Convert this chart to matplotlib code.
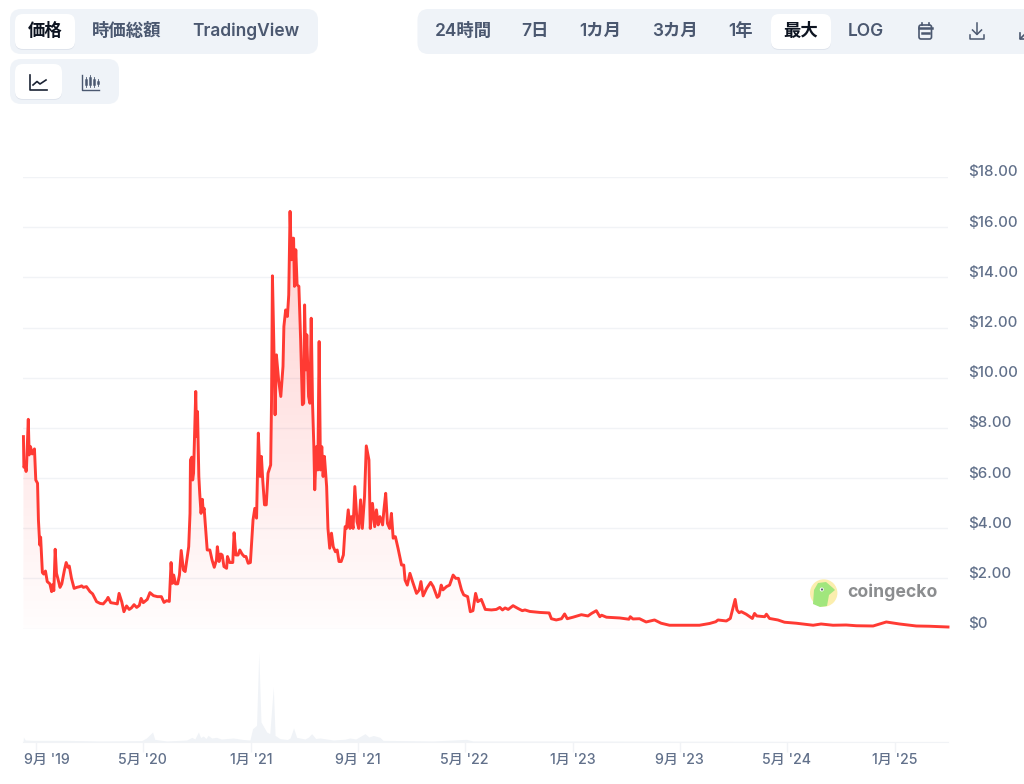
import datetime as dt
import numpy as np
import matplotlib
matplotlib.use("Agg")
import matplotlib.pyplot as plt
import matplotlib.dates as mdates
from matplotlib.patches import FancyBboxPatch, Circle, Polygon
from matplotlib.transforms import ScaledTranslation

plt.rcParams['font.family'] = ['Inter', 'Noto Sans CJK JP', 'DejaVu Sans']

start_date = dt.date(2019, 8, 3)

# price: days since start_date, USD
price_days = [
    1, 2, 5, 7, 8, 12, 14, 17, 21, 26, 29, 33, 35, 38, 40, 44, 47, 51, 55, 61, 65, 67, 70, 73, 76, 79, 84, 88, 94, 98,
    102, 105, 110, 116, 122, 129, 133, 137, 144, 152, 158, 167, 175, 182, 190, 193, 199, 209, 214, 218, 224, 229, 235,
    241, 246, 252, 258, 264, 268, 273, 282, 288, 296, 305, 314, 320, 326, 332, 336, 339, 342, 346, 351, 355, 359, 364,
    368, 373, 376, 379, 380, 383, 385, 387, 392, 394, 396, 399, 401, 404, 407, 409, 411, 414, 418, 424, 429, 434, 439,
    441, 445, 449, 452, 456, 462, 464, 469, 476, 479, 483, 488, 492, 497, 502, 506, 511, 516, 522, 526, 530, 534, 538,
    541, 544, 548, 552, 556, 562, 564, 566, 569, 572, 575, 580, 585, 590, 592, 596, 600, 603, 606, 609, 612, 614, 616,
    619, 622, 626, 630, 634, 637, 639, 642, 644, 648, 651, 654, 657, 660, 662, 666, 669, 672, 675, 678, 681, 684, 689,
    692, 696, 700, 704, 709, 713, 717, 722, 727, 731, 734, 738, 742, 745, 749, 753, 758, 762, 766, 770, 775, 779, 785,
    788, 793, 798, 802, 806, 810, 816, 819, 823, 827, 832, 836, 840, 845, 851, 859, 864, 867, 872, 878, 884, 893, 899,
    903, 908, 916, 925, 931, 940, 944, 949, 953, 961, 968, 976, 982, 988, 995, 1000, 1009, 1015, 1021, 1027, 1032,
    1040, 1049, 1063, 1074, 1082, 1088, 1094, 1101, 1112, 1123, 1133, 1139, 1150, 1173, 1194, 1199, 1210, 1222, 1229,
    1235, 1248, 1267, 1282, 1290, 1301, 1309, 1313, 1324, 1354, 1375, 1378, 1384, 1399, 1414, 1433, 1448, 1467, 1498,
    1535, 1558, 1572, 1577, 1596, 1605, 1610, 1616, 1620, 1625, 1630, 1641, 1655, 1660, 1665, 1683, 1687, 1694, 1713,
    1728, 1755, 1793, 1811, 1838, 1868, 1891, 1929, 1959, 1989, 2027, 2057, 2099,
]
price_usd = [
    7.65, 6.43, 6.53, 6.26, 6.46, 8.34, 6.92, 7.25, 6.96, 7.16, 5.92, 5.79, 4.33, 3.33, 3.64, 2.23, 2.17, 2.29, 1.87,
    1.78, 1.47, 1.74, 1.51, 3.16, 2.2, 2.0, 1.64, 1.78, 2.33, 2.63, 2.44, 2.49, 2.0, 1.6, 1.64, 1.67, 1.7, 1.64, 1.67,
    1.47, 1.38, 1.07, 1.0, 0.98, 1.14, 1.24, 1.03, 1.0, 0.98, 1.4, 1.07, 0.67, 0.9, 0.76, 0.82, 0.95, 0.84, 0.92, 1.2,
    1.03, 1.16, 1.43, 1.31, 1.27, 1.27, 1.04, 1.11, 1.08, 2.63, 1.8, 2.13, 1.78, 1.78, 2.13, 3.11, 2.33, 2.27, 2.87,
    3.26, 4.59, 6.72, 6.83, 5.92, 6.19, 9.45, 7.65, 8.65, 6.06, 5.39, 4.59, 5.15, 4.66, 4.79, 4.06, 3.13, 3.13, 2.73,
    2.44, 2.73, 3.26, 2.67, 2.97, 2.93, 2.47, 2.4, 2.87, 2.63, 2.63, 3.82, 2.93, 2.93, 3.13, 2.97, 2.87, 2.87, 2.6,
    2.63, 4.33, 4.79, 4.4, 7.79, 6.06, 6.86, 5.92, 4.93, 4.93, 6.19, 6.52, 9.12, 14.06, 11.51, 8.52, 10.91, 9.91, 9.25,
    10.45, 12.04, 12.7, 12.44, 13.3, 16.63, 14.7, 15.56, 15.56, 13.64, 15.1, 13.7, 13.64, 11.51, 8.92, 8.98, 12.9,
    10.31, 11.71, 9.25, 8.98, 12.37, 8.98, 7.25, 5.53, 7.25, 6.32, 11.44, 6.32, 7.25, 6.06, 6.86, 5.66, 3.99, 3.2, 3.8,
    3.26, 3.06, 3.13, 2.67, 2.67, 2.93, 4.06, 3.99, 4.73, 3.99, 4.46, 3.99, 5.66, 4.26, 3.99, 5.13, 3.99, 5.26, 7.28,
    6.72, 3.99, 4.99, 4.06, 4.73, 4.13, 4.46, 4.13, 4.73, 5.39, 4.19, 3.99, 4.59, 3.6, 3.66, 3.2, 2.53, 2.53, 1.93,
    1.73, 2.2, 1.87, 1.4, 1.53, 1.87, 1.3, 1.6, 1.84, 1.67, 1.24, 1.3, 1.73, 1.54, 1.67, 1.73, 2.13, 2.0, 2.0, 1.54,
    1.34, 1.27, 0.67, 0.71, 1.4, 1.07, 1.16, 0.76, 0.74, 0.76, 0.84, 0.74, 0.82, 0.76, 0.91, 0.8, 0.71, 0.74, 0.68,
    0.64, 0.62, 0.39, 0.34, 0.39, 0.58, 0.39, 0.45, 0.55, 0.5, 0.6, 0.71, 0.47, 0.53, 0.45, 0.42, 0.37, 0.47, 0.38,
    0.39, 0.26, 0.34, 0.21, 0.13, 0.13, 0.13, 0.2, 0.27, 0.34, 0.3, 0.4, 0.74, 1.16, 0.74, 0.63, 0.67, 0.57, 0.4, 0.6,
    0.5, 0.47, 0.57, 0.4, 0.34, 0.25, 0.21, 0.13, 0.18, 0.13, 0.14, 0.11, 0.1, 0.26, 0.18, 0.1, 0.09, 0.06,
]

# traded volume, same day axis, millions USD
volume_days = [0, 1, 5, 23, 99, 175, 269, 280, 294, 299, 326, 371, 376, 383, 390, 398, 403, 409, 415, 420, 428, 439,
               450, 477, 500, 515, 521, 530, 535, 540, 553, 560, 568, 572, 583, 600, 606, 614, 621, 640, 648, 655, 664,
               674, 704, 730, 742, 755, 765, 776, 785, 795, 810, 817, 931, 1006, 1021, 1200, 1600, 2099]
volume_musd = [0, 100, 40, 33, 33, 20, 27, 80, 200, 53, 20, 40, 60, 93, 60, 200, 90, 120, 70, 133, 80, 93, 60, 80, 50,
               40, 267, 333, 1800, 400, 200, 167, 1100, 133, 67, 50, 80, 280, 93, 60, 100, 167, 70, 80, 40, 55, 80, 60,
               110, 167, 100, 130, 93, 33, 20, 53, 20, 20, 15, 10]

price_ticks = [0, 2, 4, 6, 8, 10, 12, 14, 16, 18]
price_tick_labels = ['$0', '$2.00', '$4.00', '$6.00', '$8.00', '$10.00', '$12.00', '$14.00', '$16.00', '$18.00']
date_ticks = [dt.date(2019, 9, 1), dt.date(2020, 5, 1), dt.date(2021, 1, 1), dt.date(2021, 9, 1), dt.date(2022, 5, 1),
              dt.date(2023, 1, 1), dt.date(2023, 9, 1), dt.date(2024, 5, 1), dt.date(2025, 1, 1)]
date_tick_labels = ["9月 '19", "5月 '20", "1月 '21", "9月 '21", "5月 '22", "1月 '23", "9月 '23", "5月 '24", "1月 '25"]

left_tabs = ['価格', '時価総額', 'TradingView']
range_tabs = ['24時間', '7日', '1カ月', '3カ月', '1年', '最大', 'LOG']

W, H = 1024, 784
GRID = '#f1f3f6'
LABEL = '#61708a'
TAB_BG = '#eff3f8'
TAB_TEXT = '#4b5870'
DARK = '#0d1421'
RED = '#ff3a33'

price_x = [mdates.date2num(start_date + dt.timedelta(days=d)) for d in price_days]
volume_x = [mdates.date2num(start_date + dt.timedelta(days=d)) for d in volume_days]
x_min = mdates.date2num(start_date)
x_max = mdates.date2num(start_date + dt.timedelta(days=2099))

fig = plt.figure(figsize=(W / 100, H / 100), dpi=100, facecolor='white')


def axes_px(x0, y_top, x1, y_bottom):
    return fig.add_axes([x0 / W, 1 - y_bottom / H, (x1 - x0) / W, (y_bottom - y_top) / H])


# price panel
ax = axes_px(23, 177, 948, 628.5)
ax.set_xlim(x_min, x_max)
ax.set_ylim(0, 18)
for s in ax.spines.values():
    s.set_visible(False)
ax.set_facecolor('none')
ax.yaxis.tick_right()
ax.set_yticks(price_ticks, price_tick_labels)
ax.set_xticks([])
ax.tick_params(axis='y', length=0, pad=14.2, labelsize=10.8, labelcolor=LABEL)
ax.grid(axis='y', color=GRID, lw=1)
ax.set_axisbelow(True)
up = ScaledTranslation(0, 6 / 100, fig.dpi_scale_trans)
for lab in ax.get_yticklabels():
    lab.set_transform(lab.get_transform() + up)
    lab.set_fontweight('medium')

# gradient under the line
rows = np.linspace(0, 1, 200).reshape(-1, 1)
grad = np.zeros((200, 1, 4))
grad[..., 0] = 1.0
grad[..., 1] = 0.16
grad[..., 2] = 0.16
grad[..., 3] = 0.22 - 0.21 * rows
img = ax.imshow(grad, extent=[x_min, x_max, 0, 16.6], origin='upper', aspect='auto', zorder=1)
area = ax.fill_between(price_x, price_usd, 0, facecolor='none', edgecolor='none')
clip = Polygon(area.get_paths()[0].vertices, closed=True, transform=ax.transData)
img.set_clip_path(clip)
ax.set_xlim(x_min, x_max)
ax.set_ylim(0, 18)
ax.plot(price_x, price_usd, color=RED, lw=2.1, solid_joinstyle='round', zorder=3, clip_on=False)

# volume panel
vax = axes_px(23, 651, 948, 742)
vax.set_xlim(x_min, x_max)
vax.set_ylim(0, 1820)
vax.set_facecolor('none')
for name, s in vax.spines.items():
    s.set_visible(name == 'bottom')
    s.set_color(GRID)
vax.fill_between(volume_x, volume_musd, 0, color='#f0f3f7', lw=0)
vax.set_yticks([])
vax.set_xticks([mdates.date2num(d) for d in date_ticks], date_tick_labels)
vax.tick_params(axis='x', length=7, width=1, color=GRID, pad=1, labelsize=10.2, labelcolor=LABEL)
first = vax.get_xticklabels()[0]
first.set_transform(first.get_transform() + ScaledTranslation(11 / 100, 0, fig.dpi_scale_trans))
for lab in vax.get_xticklabels():
    lab.set_fontweight('medium')

# page furniture in pixel coordinates
ui = fig.add_axes([0, 0, 1, 1], zorder=10)
ui.set_xlim(0, W)
ui.set_ylim(H, 0)
ui.axis('off')


def pill(x0, y0, x1, y1, color, r=9, shadow=False):
    if shadow:
        ui.add_patch(FancyBboxPatch((x0, y0 + 1), x1 - x0, y1 - y0, boxstyle=f'round,pad=0,rounding_size={r}',
                                    fc='#dfe4ec', ec='none', clip_on=False))
    ui.add_patch(FancyBboxPatch((x0, y0), x1 - x0, y1 - y0, boxstyle=f'round,pad=0,rounding_size={r}',
                                fc=color, ec='none', clip_on=False))


pill(10, 9, 318, 54, TAB_BG, 11)
pill(15, 14, 75, 49, 'white', 8, True)
for label, cx in zip(left_tabs, [45, 127, 246]):
    active = label == '価格'
    ui.text(cx, 31.5, label, ha='center', va='center', fontsize=12.5, fontweight='bold' if active else 'semibold',
            color=DARK if active else TAB_TEXT)

pill(10, 59, 119, 104, TAB_BG, 11)
pill(15, 64, 62, 99, 'white', 8, True)
# line chart icon
ui.plot([30, 30, 47], [75, 90, 90], color='#1a2233', lw=1.2)
ui.plot([33, 37, 40, 46], [85, 81.5, 84, 80], color='#1a2233', lw=1.2)
# candle icon
ui.plot([82, 82, 99], [75, 90, 90], color=TAB_TEXT, lw=1.0)
for cx, top, bot in [(86, 77, 87), (90, 75, 87), (94, 77, 87), (97.5, 79, 86)]:
    ui.plot([cx, cx], [top, bot], color=TAB_TEXT, lw=0.6)
    ui.plot([cx, cx], [top + 3, bot - 3], color=TAB_TEXT, lw=1.8)

pill(417.5, 9, 1060, 54, TAB_BG, 11)
pill(771, 14, 831, 49, 'white', 8, True)
for label, cx in zip(range_tabs, [463.5, 535, 600, 675, 740.5, 801, 866]):
    active = label == '最大'
    ui.text(cx, 31.5, label, ha='center', va='center', fontsize=12.5, fontweight='bold' if active else 'semibold',
            color=DARK if active else TAB_TEXT)

# calendar icon
ui.add_patch(FancyBboxPatch((919, 25), 12.5, 14, boxstyle='round,pad=0,rounding_size=2', fc='none', ec=TAB_TEXT, lw=1.2))
ui.plot([919, 931.5], [27.5, 27.5], color=TAB_TEXT, lw=1.8)
ui.plot([921.5, 921.5], [23, 25], color=TAB_TEXT, lw=1.2)
ui.plot([929, 929], [23, 25], color=TAB_TEXT, lw=1.2)
ui.plot([922, 928.5], [33, 33], color=TAB_TEXT, lw=1.8)
# download icon
ui.plot([977, 977], [23, 34], color=TAB_TEXT, lw=1.1)
ui.plot([972.5, 977, 981.5], [30, 34.5, 30], color=TAB_TEXT, lw=1.1)
ui.plot([970, 970, 984, 984], [35, 39, 39, 35], color=TAB_TEXT, lw=1.1)
# expand icon cut off by the page edge
ui.plot([1020, 1020, 1024], [33, 39, 39], color=TAB_TEXT, lw=1.2)
ui.plot([1020.5, 1024], [38.5, 35], color=TAB_TEXT, lw=1.2)

# watermark
ui.add_patch(Circle((823.7, 593), 13.7, fc='#fbeeae', ec='none'))
ui.add_patch(Polygon([(813, 604), (814, 590), (818, 583), (826, 582), (833, 588), (835, 590), (829, 595), (827, 606),
                      (820, 607)], closed=True, fc='#a1e67d', ec='none'))
ui.add_patch(Circle((821.8, 589.5), 2.0, fc='white', ec='none'))
ui.add_patch(Circle((822, 589.5), 1.1, fc='#59636e', ec='none'))
ui.text(847, 592.5, 'coingecko', ha='left', va='center', fontsize=12.7, fontweight='bold', color='#8b8d8f')

fig.savefig('out.png', dpi=100)
